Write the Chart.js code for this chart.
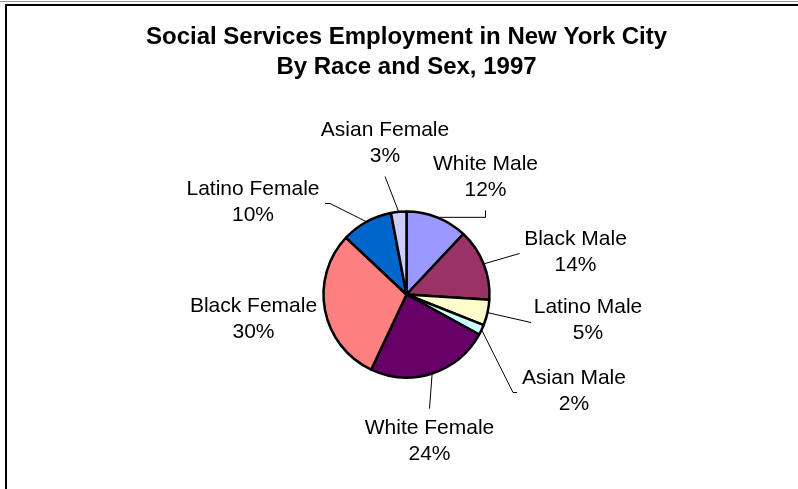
<!DOCTYPE html>
<html>
<head>
<meta charset="utf-8">
<script src="https://cdn.jsdelivr.net/npm/chart.js@4.4.1/dist/chart.umd.min.js"></script>
<style>
  body { margin: 0; background: #fff; }
  canvas { display: block; }
</style>
</head>
<body>
<canvas id="myChart" width="798" height="489"></canvas>
<script>
const categories = ['White Male', 'Black Male', 'Latino Male', 'Asian Male',
                    'White Female', 'Black Female', 'Latino Female', 'Asian Female'];
const shares = [12, 14, 5, 2, 24, 30, 10, 3];
const sliceColors = ['#9999FF', '#993366', '#FFFFCC', '#CCFFFF',
                     '#660066', '#FF8080', '#0066CC', '#CCCCFF'];
const titleLines = ['Social Services Employment in New York City', 'By Race and Sex, 1997'];

// where each label sits relative to the pie centre, and where its leader line ends
// (end point relative to the label centre, null = no leader line)
const labelLayout = [
    { dx: 79, dy: -117, end: [0, 33], elbow: true },
    { dx: 169, dy: -42, end: [-56, 1] },
    { dx: 181.5, dy: 26, end: [-57, 2] },
    { dx: 167.5, dy: 97, end: [-61, 1], tail: [-57, 1] },
    { dx: 23, dy: 147, end: [0, -33] },
    { dx: -153, dy: 24.5, end: null },
    { dx: -153.5, dy: -92, end: [77, 1], tail: [72, 1] },
    { dx: -21.5, dy: -151, end: [0, 33] }
];

const FONT = "Arial, 'Liberation Sans', sans-serif";

// frame like the original spreadsheet chart object
const framePlugin = {
    id: 'frame',
    beforeDraw(chart) {
        const ctx = chart.ctx;
        ctx.save();
        ctx.fillStyle = '#fff';
        ctx.fillRect(0, 0, chart.width, chart.height);
        ctx.strokeStyle = '#9a9a9a';
        ctx.lineWidth = 1;
        ctx.beginPath();
        ctx.moveTo(0, 1.5);
        ctx.lineTo(chart.width, 1.5);
        ctx.stroke();
        ctx.strokeStyle = '#000';
        ctx.lineWidth = 2;
        ctx.beginPath();
        ctx.moveTo(chart.width, 5);
        ctx.lineTo(6, 5);
        ctx.lineTo(6, chart.height);
        ctx.stroke();
        ctx.restore();
    }
};

const pieLabels = {
    id: 'pieLabels',
    afterDraw(chart) {
        const ctx = chart.ctx;
        const meta = chart.getDatasetMeta(0);
        const vals = chart.data.datasets[0].data;
        const total = vals.reduce((a, b) => a + b, 0);
        ctx.save();
        ctx.font = '21px ' + FONT;
        ctx.fillStyle = '#000';
        ctx.textAlign = 'center';
        ctx.textBaseline = 'middle';
        meta.data.forEach((arc, i) => {
            const p = arc.getProps(['x', 'y', 'startAngle', 'endAngle', 'outerRadius'], true);
            const mid = (p.startAngle + p.endAngle) / 2;
            const ax = p.x + Math.cos(mid) * p.outerRadius;
            const ay = p.y + Math.sin(mid) * p.outerRadius;
            const lay = labelLayout[i];
            const lx = p.x + lay.dx;
            const ly = p.y + lay.dy;
            if (lay.end) {
                ctx.strokeStyle = '#000';
                ctx.lineWidth = 1;
                ctx.beginPath();
                ctx.moveTo(ax, ay);
                if (lay.elbow) ctx.lineTo(lx + lay.end[0], ay);
                ctx.lineTo(lx + lay.end[0], ly + lay.end[1]);
                if (lay.tail) ctx.lineTo(lx + lay.tail[0], ly + lay.tail[1]);
                ctx.stroke();
            }
            ctx.fillText(chart.data.labels[i], lx, ly - 13);
            ctx.fillText(Math.round(vals[i] / total * 100) + '%', lx, ly + 13);
        });
        ctx.restore();
    }
};

const ctx = document.getElementById('myChart').getContext('2d');
const myChart = new Chart(ctx, {
    type: 'pie',
    data: {
        labels: categories,
        datasets: [{
            data: shares,
            backgroundColor: sliceColors,
            borderColor: '#000',
            borderWidth: 2.5,
            radius: 83
        }]
    },
    options: {
        responsive: false,
        animation: false,
        layout: { padding: { left: 15, right: 0, top: 0, bottom: 0 } },
        plugins: {
            legend: { display: false },
            tooltip: { enabled: false },
            title: {
                display: true,
                text: titleLines,
                color: '#000',
                font: { family: FONT, size: 24, weight: 'bold', lineHeight: 1.25 },
                padding: { top: 22, bottom: 18 }
            }
        }
    },
    plugins: [framePlugin, pieLabels]
});
</script>
</body>
</html>
